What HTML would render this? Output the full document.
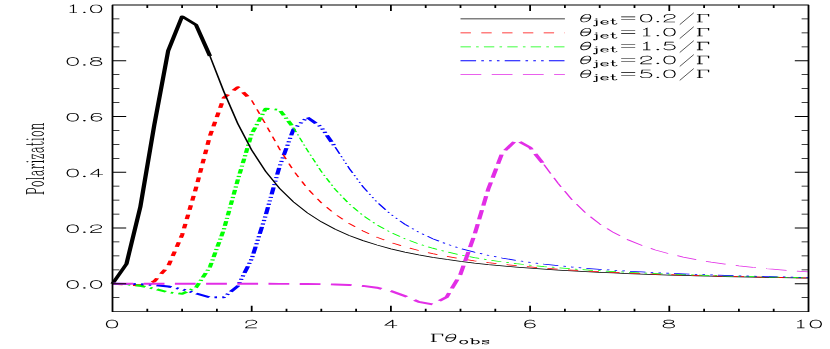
<!DOCTYPE html>
<html><head><meta charset="utf-8"><title>Polarization</title>
<style>html,body{margin:0;padding:0;background:#fff;font-family:"Liberation Sans",sans-serif}svg{display:block}</style></head><body>
<svg width="830" height="349" viewBox="0 0 830 349">
<rect width="830" height="349" fill="#fff"/>
<defs>
<path id="g0" d="M9,-21.8 5.5,-20.7 5.2,-20.3 3.3,-17.6 3.1,-16.8 2.2,-12.2 2.2,-12.1 2.2,-12 2.2,-9 2.2,-8.9 2.2,-8.8 3.2,-3.8 3.3,-3.4 5.2,-0.7 5.8,-0.2 8.6,0.8 11,0.8 14.5,-0.3 14.8,-0.7 16.7,-3.4 16.9,-4.2 17.8,-8.8 17.8,-8.9 17.8,-9 17.8,-12 17.8,-12.1 17.8,-12.2 16.8,-17.2 16.7,-17.6 14.8,-20.3 14.2,-20.8 11.4,-21.8ZM9,-20.2 11,-20.2 13.5,-19.2 15.2,-16.6 16.2,-12.1 16.2,-8.9 15.2,-4.4 13.4,-1.7 11,-0.8 9,-0.8 6.5,-1.8 4.8,-4.4 3.8,-8.9 3.8,-12.1 4.8,-16.6 6.6,-19.3Z"/>
<path id="g1" d="M13,-21.8 12.5,-21.7 12.2,-21.3 2.6,-7.9 2.2,-7 2.3,-6.5 3,-6.2 12.1,-6.2 12.2,-6.1 12.2,0 12.3,0.5 13,0.8 13.5,0.7 13.8,0 13.8,-6.1 13.9,-6.2 18,-6.2 18.5,-6.3 18.8,-7 18.7,-7.5 18,-7.8 13.9,-7.8 13.8,-7.9 13.8,-21 13.7,-21.5ZM12.1,-18.2 12.2,-18.2 12.2,-7.9 12.1,-7.8 4.8,-7.8 4.7,-7.9Z"/>
<path id="g2" d="M4.7,-21.8 4.3,-21.5 4.1,-20.6 3.2,-12.3 3.3,-11.5 3.7,-11.2 4,-11.2 4.3,-11.2 5.5,-12.3 8,-13.2 11,-13.2 13.5,-12.3 15.3,-10.5 16.2,-8 16.2,-6 15.3,-3.5 13.5,-1.7 11,-0.8 8,-0.8 5.5,-1.7 4.6,-2.6 3.7,-4.5 3.3,-4.8 3,-4.8 2.5,-4.7 2.2,-4.3 2.2,-4 2.2,-3.7 3.3,-1.5 4.5,-0.3 7.6,0.8 11,0.8 14.5,-0.3 16.7,-2.5 17.8,-5.6 17.8,-8 16.7,-11.5 14.5,-13.7 11.4,-14.8 8,-14.8 5.2,-13.9 5.1,-14 5.1,-14.6 5.7,-19.8 5.8,-20.2 15,-20.2 15.7,-20.5 15.8,-21 15.8,-21.3 15.5,-21.7 15,-21.8 5,-21.8Z"/>
<path id="g3" d="M12,-21.8 9.6,-21.8 6.8,-20.8 6.2,-20.3 4.3,-17.6 4.2,-17.2 3.2,-12.2 3.2,-12.1 3.2,-12 3.2,-7 3.2,-6.9 3.2,-6.8 4.3,-2.5 6.5,-0.3 10,0.8 11.4,0.8 14.5,-0.3 16.7,-2.5 17.8,-6 17.8,-7.4 16.7,-10.5 14.5,-12.7 11.4,-13.8 10,-13.8 6.5,-12.7 4.9,-11.1 4.8,-11.2 4.8,-12.1 5.8,-16.6 7.6,-19.3 10,-20.2 12,-20.2 14.4,-19.3 15.5,-17.3 16,-17.2 16.7,-17.5 16.8,-18 16.8,-18.3 15.5,-20.7ZM10,-12.2 11,-12.2 13.5,-11.3 15.3,-9.5 16.2,-7 16.2,-6 15.3,-3.5 13.5,-1.7 11,-0.8 10,-0.8 7.5,-1.7 5.8,-3.4 4.8,-6.9 5.7,-9.5 7.5,-11.3Z"/>
<path id="g4" d="M8,-21.8 4.5,-20.7 3.2,-18.3 3.2,-16 4.3,-13.5 6.8,-12.2 5.5,-11.7 3.3,-9.5 2.2,-7 2.2,-4 3.3,-1.5 4.5,-0.3 8,0.8 12,0.8 15.5,-0.3 16.7,-1.5 17.8,-3.7 17.8,-7 16.7,-9.5 14.5,-11.7 13.2,-12.2 15.7,-13.5 16.8,-15.7 16.8,-18 15.7,-20.5 15.2,-20.8 12,-21.8ZM4.6,-8.4 6.5,-10.3 9.9,-11.4 10.8,-11.2 13.5,-10.3 15.4,-8.4 16.2,-6.9 16.2,-4.1 15.4,-2.6 14.5,-1.7 12,-0.8 8,-0.8 5.5,-1.7 4.6,-2.6 3.8,-4.1 3.8,-6.9ZM4.8,-17.9 5.6,-19.3 8,-20.2 12,-20.2 14.5,-19.2 15.2,-17.9 15.2,-16.1 14.5,-14.8 14.2,-14.5 12.8,-13.8 9.9,-13.1 7.2,-13.8 5.8,-14.5 5.5,-14.8 4.8,-16.1Z"/>
<path id="g5" d="M5,-2.8 4.5,-2.7 3.3,-1.5 3.2,-1 3.3,-0.5 4.5,0.7 5,0.8 5.5,0.7 6.7,-0.5 6.8,-1 6.7,-1.5 5.5,-2.7Z"/>
<path id="g6" d="M2,-21.6 1.8,-21.5 1.4,-21 1.8,-20.5 2,-20.4 4.3,-20.4 4.4,-20.3 4.4,-0.7 4.3,-0.6 2,-0.6 1.8,-0.5 1.4,0 1.5,0.2 2,0.6 9,0.6 9.2,0.5 9.6,0 9.2,-0.5 9,-0.6 6.7,-0.6 6.6,-0.7 6.6,-9.3 6.7,-9.4 14,-9.4 14.1,-9.5 14.2,-9.4 17.2,-10.4 18.4,-11.6 19.5,-13.7 19.6,-14 19.5,-17.3 18.4,-19.4 17.4,-20.4 14.2,-21.6 14.1,-21.5 14,-21.6ZM6.6,-20.3 6.7,-20.4 13.9,-20.4 15.6,-19.6 16.6,-18.6 17.4,-16.9 17.4,-14.1 16.6,-12.4 15.6,-11.4 13.9,-10.6 6.7,-10.6 6.6,-10.7Z"/>
<path id="g7" d="M8.8,-14.6 5.8,-13.6 3.6,-11.4 2.4,-8.2 2.5,-8.1 2.4,-8 2.4,-6 2.5,-5.9 2.4,-5.8 3.4,-2.8 5.6,-0.6 8.8,0.6 8.9,0.5 9,0.6 11,0.6 11.1,0.5 11.2,0.6 14.2,-0.4 16.4,-2.6 17.6,-5.8 17.5,-5.9 17.6,-6 17.6,-8 17.5,-8.1 17.6,-8.2 16.6,-11.2 14.4,-13.4 11.2,-14.6 11.1,-14.5 11,-14.6 9,-14.6 8.9,-14.5ZM9.1,-13.4 10.9,-13.4 12.6,-12.6 14.5,-10.7 15.4,-8 15.4,-6 14.5,-3.3 12.6,-1.4 10.9,-0.6 9.1,-0.6 7.4,-1.4 5.5,-3.3 4.6,-6 4.6,-8 5.5,-10.7 7.4,-12.6Z"/>
<path id="g8" d="M2,-21.6 1.8,-21.5 1.4,-21 1.8,-20.5 2,-20.4 4.3,-20.4 4.4,-20.3 4.4,-0.7 4.3,-0.6 2,-0.6 1.8,-0.5 1.4,0 1.5,0.2 2,0.6 9,0.6 9.2,0.5 9.6,0 9.2,-0.5 9,-0.6 6.7,-0.6 6.6,-0.7 6.6,-21 6.5,-21.2 6,-21.6Z"/>
<path id="g9" d="M3.6,-12.4 3.4,-12 3.4,-11 3.5,-10.8 4,-10.4 5.2,-10.5 5.6,-11 5.6,-12 5.3,-12.5 7.1,-13.4 10.9,-13.4 12.6,-12.6 13.4,-11.8 13.4,-10.2 12.7,-9.5 6.8,-8.6 3.8,-7.6 3.4,-7.2 2.4,-5 2.4,-3 3.4,-0.8 3.8,-0.4 6.8,0.6 6.9,0.5 7,0.6 10,0.6 12.4,-0.6 13.8,-2 14.4,-0.8 14.8,-0.4 16.7,0.5 18,0.6 18.5,0.2 18.6,0 18.2,-0.5 17.2,-0.6 16.4,-1.4 15.6,-3.1 15.6,-10 14.6,-12.2 13.4,-13.4 11,-14.6 7,-14.6 4.8,-13.6ZM13.4,-8.5 13.4,-3.2 11.6,-1.4 9.9,-0.6 7.1,-0.6 5.6,-1.3 5.3,-1.6 4.6,-3.1 4.6,-4.9 5.3,-6.4 5.6,-6.7 7.3,-7.5 12.8,-8.3 13.3,-8.6Z"/>
<path id="g10" d="M1.8,-14.5 1.4,-14 1.8,-13.5 2,-13.4 4.3,-13.4 4.4,-13.3 4.4,-0.7 4.3,-0.6 2,-0.6 1.5,-0.2 1.4,0 1.5,0.2 2,0.6 9,0.6 9.2,0.5 9.6,0 9.2,-0.5 9,-0.6 6.7,-0.6 6.6,-0.7 6.6,-8 7.4,-10.5 9.4,-12.6 11.1,-13.4 13.4,-13.4 13.5,-13.3 12.6,-12.4 12.4,-12 12.6,-11.6 13.6,-10.6 14,-10.4 14.2,-10.5 15.5,-11.8 15.6,-12 15.5,-13.2 14.4,-14.4 14,-14.6 11,-14.6 8.6,-13.4 6.7,-11.5 6.6,-11.6 6.6,-14 6.2,-14.5 6,-14.6 2,-14.6ZM14.3,-12.5 14.4,-12.2 14,-11.8 13.8,-12.0Z"/>
<path id="g11" d="M1.8,-14.5 1.4,-14 1.8,-13.5 2,-13.4 4.3,-13.4 4.4,-13.3 4.4,-0.7 4.3,-0.6 2,-0.6 1.5,-0.2 1.4,0 1.5,0.2 2,0.6 9,0.6 9.2,0.5 9.6,0 9.2,-0.5 9,-0.6 6.7,-0.6 6.6,-0.7 6.6,-14 6.5,-14.2 6,-14.6 2,-14.6ZM5,-21.6 4.6,-21.4 3.6,-20.4 3.4,-20 3.6,-19.6 4.6,-18.6 5,-18.4 5.4,-18.6 6.4,-19.6 6.6,-20 6.4,-20.4 5.4,-21.4ZM4.8,-20 5,-20.2 5.2,-20 5,-19.8Z"/>
<path id="g12" d="M2.8,-14.5 2.4,-14 2.4,-10 2.5,-9.8 3,-9.4 3.2,-9.5 3.6,-9.8 4.5,-13.4 12.7,-13.4 12.8,-13.3 2.5,-0.3 2.4,0 2.5,0.2 3,0.6 15,0.6 15.2,0.5 15.6,0 15.6,-4 15.5,-4.2 15,-4.6 14.8,-4.5 14.4,-4.2 13.5,-0.6 5.3,-0.6 5.2,-0.7 15.5,-13.7 15.6,-14 15.5,-14.2 15,-14.6 3,-14.6Z"/>
<path id="g13" d="M5,-21.6 4.8,-21.5 4.4,-21 4.4,-14.7 4.3,-14.6 2,-14.6 1.8,-14.5 1.4,-14 1.5,-13.8 2,-13.4 4.3,-13.4 4.4,-13.3 4.4,-4 4.5,-3.9 4.4,-3.8 5.4,-0.8 5.8,-0.4 7.7,0.5 10,0.6 12.2,-0.4 12.6,-0.8 13.6,-3 13.2,-3.5 13,-3.6 12.8,-3.5 12.4,-3.2 11.7,-1.6 11.4,-1.3 9.9,-0.6 8.2,-0.6 7.4,-1.5 6.6,-4 6.6,-13.3 6.7,-13.4 10,-13.4 10.2,-13.5 10.6,-14 10.5,-14.2 10,-14.6 6.7,-14.6 6.6,-14.7 6.6,-21 6.2,-21.5 6,-21.6 5.5,-21.2Z"/>
<path id="g14" d="M1.5,-14.2 1.4,-14 1.5,-13.8 2,-13.4 4.3,-13.4 4.4,-13.3 4.4,-0.7 4.3,-0.6 2,-0.6 1.8,-0.5 1.4,0 1.8,0.5 2,0.6 9,0.6 9.5,0.2 9.6,0 9.5,-0.2 9,-0.6 6.7,-0.6 6.6,-0.7 6.6,-10.8 8.3,-12.5 11,-13.4 12.9,-13.4 14.4,-12.7 14.7,-12.4 15.4,-10.9 15.4,-0.7 15.3,-0.6 13,-0.6 12.5,-0.2 12.4,0 12.5,0.2 13,0.6 20,0.6 20.5,0.2 20.6,0 20.5,-0.2 20,-0.6 17.7,-0.6 17.6,-0.7 17.6,-11 16.6,-13.2 16.2,-13.6 13.2,-14.6 13.1,-14.5 13,-14.6 11,-14.6 10.9,-14.5 10.8,-14.6 7.8,-13.6 6.7,-12.5 6.6,-12.6 6.6,-14 6.2,-14.5 6,-14.6 2,-14.6Z"/>
<path id="g15" d="M7,-14.9 3,-14.9 2.5,-14.8 2.2,-14.5 2.1,-14 2.2,-13.5 2.7,-13.2 5,-13.1 5.1,-13 5.1,3.8 4.3,5.3 3.6,6.1 3.3,6 3.8,5.3 3.9,5 3.7,4.3 2.7,3.3 2,3.1 1.3,3.3 0.3,4.3 0.1,5 0.2,6.3 0.3,6.7 1.3,7.7 2,7.9 4.4,7.8 6.4,6.8 6.8,6.4 7.8,4.4 7.9,4 7.9,-14 7.8,-14.5 7.5,-14.8ZM6,-21.9 5.3,-21.7 4.3,-20.7 4.1,-20 4.3,-19.3 5.3,-18.3 6,-18.1 6.7,-18.3 7.7,-19.3 7.9,-20 7.7,-20.7 6.7,-21.7Z"/>
<path id="g16" d="M9,-14.9 5.8,-13.9 5.3,-13.7 3.3,-11.7 2.2,-8.4 2.1,-6 3.1,-2.8 3.3,-2.3 5.3,-0.3 8.6,0.8 11,0.9 14.2,-0.1 14.7,-0.3 16.7,-2.3 16.9,-3 16.8,-3.5 16.3,-3.8 16,-3.9 15.3,-3.7 13.2,-1.7 11,-0.9 9.2,-0.9 7.7,-1.7 5.8,-3.6 4.9,-6 4.9,-7 5,-7.1 16,-7.1 16.5,-7.2 16.8,-7.7 16.9,-10 16.8,-10.4 15.8,-12.4 14.4,-13.8 12.4,-14.8ZM5.2,-9 5.8,-10.4 7.7,-12.3 9.2,-13.1 11.8,-13.1 13.2,-12.4 13.4,-12.2 14.1,-10.8 14.1,-9 14,-8.9 5.3,-8.9Z"/>
<path id="g17" d="M5,-21.9 4.5,-21.8 4.2,-21.5 4.1,-21 4.1,-15 4,-14.9 1.7,-14.8 1.2,-14.5 1.1,-14 1.2,-13.5 1.7,-13.2 4,-13.1 4.1,-13 4.1,-4 5.2,-0.5 5.6,-0.2 7.6,0.8 8,0.9 10.4,0.8 12.4,-0.2 12.8,-0.6 13.8,-2.6 13.9,-3 13.8,-3.5 13.5,-3.8 13,-3.9 12.5,-3.8 12.2,-3.4 11.4,-1.8 11.2,-1.6 9.8,-0.9 8.4,-0.9 7.7,-1.8 6.9,-4 6.9,-13 7,-13.1 10,-13.1 10.5,-13.2 10.8,-13.5 10.9,-14 10.8,-14.5 10.3,-14.8 7,-14.9 6.9,-15 6.9,-21 6.8,-21.3 6.3,-21.8 6,-21.9 5.4,-21.8Z"/>
<path id="g18" d="M9,-14.9 5.8,-13.9 5.3,-13.7 3.3,-11.7 2.2,-8.4 2.1,-6 3.1,-2.8 3.3,-2.3 5.3,-0.3 8.6,0.8 11,0.9 14.2,-0.1 14.7,-0.3 16.7,-2.3 17.8,-5.6 17.9,-8 16.9,-11.2 16.7,-11.7 14.7,-13.7 11.4,-14.8ZM9.2,-13.1 10.8,-13.1 12.3,-12.3 14.2,-10.4 15.1,-8 15.1,-6 14.2,-3.6 12.3,-1.7 10.8,-0.9 9.2,-0.9 7.7,-1.7 5.8,-3.6 4.9,-6 4.9,-8 5.8,-10.4 7.7,-12.3Z"/>
<path id="g19" d="M1.5,-21.8 1.2,-21.5 1.1,-21 1.2,-20.5 1.5,-20.2 2,-20.1 4,-20.1 4.1,-20 4.1,0 4.2,0.5 4.5,0.8 5,0.9 5.4,0.8 6,0.9 6.3,0.8 6.8,0.3 7,-0.7 7.6,-0.2 9.6,0.8 12,0.9 15.2,-0.1 15.7,-0.3 17.7,-2.3 17.9,-2.8 18.9,-6 18.8,-8.4 17.7,-11.7 15.7,-13.7 15.2,-13.9 12,-14.9 9.6,-14.8 7.6,-13.8 7,-13.3 6.9,-13.4 6.9,-21 6.8,-21.5 6.5,-21.8 6,-21.9 2,-21.9ZM10.2,-13.1 11.8,-13.1 13.3,-12.3 15.2,-10.4 16.1,-8 16.1,-6 15.2,-3.6 13.3,-1.7 11.8,-0.9 10.2,-0.9 8.7,-1.7 6.9,-3.4 6.9,-10.6 8.7,-12.3Z"/>
<path id="g20" d="M5.6,-14.8 3.6,-13.8 2.3,-12.7 2.1,-12 2.1,-10 2.3,-9.3 3.6,-8.2 5.8,-7.1 10.5,-5.2 12.3,-4.3 13.1,-3.6 13.1,-2.4 12.3,-1.7 10.8,-0.9 7.2,-0.9 5.7,-1.7 4.7,-2.7 3.8,-4.4 3.5,-4.8 3,-4.9 2.7,-4.8 2.2,-4.5 2.1,-4 2.1,0 2.2,0.3 2.7,0.8 3,0.9 3.3,0.8 3.8,0.4 4.2,-0.4 6.6,0.8 7,0.9 11,0.9 11.4,0.8 13.4,-0.2 14.7,-1.3 14.9,-2 14.9,-5 14.7,-5.7 13.4,-6.8 11.2,-7.9 6.5,-9.8 4.7,-10.7 3.9,-11.4 3.9,-11.6 4.7,-12.3 6.2,-13.1 9.8,-13.1 11.3,-12.3 12.3,-11.3 13.2,-9.6 13.5,-9.2 14,-9.1 14.3,-9.2 14.8,-9.5 14.9,-10 14.9,-14 14.8,-14.3 14.3,-14.8 14,-14.9 13.7,-14.8 13.2,-14.4 12.8,-13.6 10.4,-14.8 10,-14.9 6,-14.9Z"/>
<path id="one" fill="none" stroke="#000" stroke-width="1.55" d="M6.5,-17.5 L9,-18.8 L11,-21 L11,0 M6,0 L15.5,0"/>
<path id="gam" fill="none" stroke="#000" stroke-width="1.55" d="M5,-21 L5,0 M5.7,-21 L5.7,0 M2,-21 L17,-21 L17,-15 M16.5,-21 L17,-17 M2,0 L9.5,0"/>
<g id="tht" fill="none" stroke="#000"><path stroke-width="1.55" d="M12,-21 C8,-21 4.5,-16 3.5,-10 C2.5,-4 4,0 7,0 C11,0 14.5,-5 15.5,-11 C16.5,-17 15,-21 12,-21 Z"/><path stroke-width="2.4" d="M3.6,-10.5 L15.4,-10.5"/></g>
<path id="eq" fill="none" stroke="#000" stroke-width="1.55" d="M4,-14 H22 M4,-7 H22"/>
<path id="two" fill="none" stroke="#000" stroke-width="1.55" stroke-linejoin="round" d="M3.5,-12.5 L3.5,-16.5 L5,-19 L8,-20.6 L12,-21 L15,-19.6 L16.8,-16.8 L16.8,-14 L15,-10.8 L8,-6.8 L4.3,-3.5 L3,0 L17,0"/>
<path id="sl" fill="none" stroke="#000" stroke-width="1.15" d="M21.1,-25 L3.1,7"/>
</defs>
<g transform="scale(1,0.45)" fill="none" stroke-linecap="butt" stroke-linejoin="round">
<polyline points="112.5,630.56 126.42,586.8 140.34,459.71 154.26,277.92 168.18,112.77 182.1,36.54 196.02,55.38 209.94,124.37" stroke="#000000" stroke-width="4.3"/>
<polyline points="112.5,630.56 126.42,632.33 140.34,634.05 154.26,625.24 168.18,591.66 182.1,522.08 196.02,417.68 209.94,302.02 223.86,217.36 237.78,193.79 251.7,223.09" stroke="#ff0000" stroke-width="4.3" stroke-dasharray="10.4 10.4"/>
<polyline points="112.5,630.56 126.42,631.62 140.34,635.13 154.26,641.58 168.18,649.67 182.1,652.92 196.02,638.71 209.94,593.22 223.86,509.94 237.78,399.96 251.7,297.26 265.62,241.51 279.54,244.08 293.46,283.51" stroke="#00ff00" stroke-width="4.3" stroke-dasharray="10.4 5.2 2.6 5.2"/>
<polyline points="112.5,630.56 126.42,630.79 140.34,631.58 154.26,633.31 168.18,636.69 182.1,642.75 196.02,651.9 209.94,661.04 223.86,660.47 237.78,635.8 251.7,575.17 265.62,479.1 279.54,369.86 293.46,287.5 307.38,260.74 321.3,282.68 335.22,327.01" stroke="#0000ff" stroke-width="4.3" stroke-dasharray="15.6 5.2 2.6 5.2 2.6 5.2 2.6 5.2"/>
<polyline points="209.94,124.37 223.86,203.5 237.78,274.7 251.7,333.52 265.62,380.74 279.54,418.42 293.46,448.63 307.38,473.06 321.3,493.01 335.22,509.47 349.14,523.19 363.06,534.72 376.98,544.51 390.9,552.89 404.82,560.1 418.74,566.36 432.66,571.82 446.58,576.62 460.5,580.85 474.42,584.61 488.34,587.95 502.26,590.94 516.18,593.63 530.1,596.06 544.02,598.25 557.94,600.24 571.86,602.05 585.78,603.71 599.7,605.22 613.62,606.61 627.54,607.89 641.46,609.07 655.38,610.16 669.3,611.17 683.22,612.1 697.14,612.97 711.06,613.78 724.98,614.54 738.9,615.24 752.82,615.9 766.74,616.52 780.66,617.1 794.58,617.64 808.5,618.15" stroke="#000000" stroke-width="1.7"/>
<polyline points="251.7,223.09 265.62,276.15 279.54,331.17 293.46,379.27 307.38,418.75 321.3,450.51 335.22,476.02 349.14,496.63 363.06,513.44 376.98,527.29 390.9,538.82 404.82,548.51 418.74,556.72 432.66,563.75 446.58,569.81 460.5,575.07 474.42,579.66 488.34,583.7 502.26,587.27 516.18,590.44 530.1,593.27 544.02,595.81 557.94,598.09 571.86,600.15 585.78,602.02 599.7,603.72 613.62,605.27 627.54,606.69 641.46,607.99 655.38,609.19 669.3,610.29 683.22,611.31 697.14,612.25 711.06,613.12 724.98,613.94 738.9,614.69 752.82,615.4 766.74,616.06 780.66,616.67 794.58,617.25 808.5,617.79" stroke="#ff0000" stroke-width="1.7" stroke-dasharray="10.4 10.4"/>
<polyline points="293.46,283.51 307.38,333.86 321.3,381.09 335.22,420.86 349.14,453.1 363.06,478.98 376.98,499.8 390.9,516.69 404.82,530.53 418.74,541.98 432.66,551.55 446.58,559.63 460.5,566.51 474.42,572.41 488.34,577.52 502.26,581.97 516.18,585.87 530.1,589.3 544.02,592.35 557.94,595.06 571.86,597.49 585.78,599.67 599.7,601.63 613.62,603.41 627.54,605.03 641.46,606.5 655.38,607.85 669.3,609.09 683.22,610.22 697.14,611.27 711.06,612.23 724.98,613.12 738.9,613.95 752.82,614.72 766.74,615.44 780.66,616.1 794.58,616.73 808.5,617.31" stroke="#00ff00" stroke-width="1.7" stroke-dasharray="10.4 5.2 2.6 5.2"/>
<polyline points="335.22,327.01 349.14,373.91 363.06,415.17 376.98,449.11 390.9,476.42 404.82,498.33 418.74,516.02 432.66,530.43 446.58,542.28 460.5,552.13 474.42,560.39 488.34,567.39 502.26,573.37 516.18,578.52 530.1,582.99 544.02,586.89 557.94,590.31 571.86,593.34 585.78,596.03 599.7,598.42 613.62,600.57 627.54,602.51 641.46,604.25 655.38,605.84 669.3,607.28 683.22,608.59 697.14,609.79 711.06,610.9 724.98,611.92 738.9,612.85 752.82,613.72 766.74,614.52 780.66,615.27 794.58,615.96 808.5,616.6" stroke="#0000ff" stroke-width="1.7" stroke-dasharray="15.6 5.2 2.6 5.2 2.6 5.2 2.6 5.2"/>
<polyline points="112.5,630.56 126.42,630.56 140.34,630.55 154.26,630.56 168.18,630.56 182.1,630.56 196.02,630.57 209.94,630.58 223.86,630.6 237.78,630.62 251.7,630.65 265.62,630.7 279.54,630.77 293.46,630.9 307.38,631.11 321.3,631.46 335.22,632.09 349.14,633.25 363.06,635.39 376.98,639.38 390.9,646.53 404.82,657.77 418.74,670.82 432.66,676.6 446.58,660.4 460.5,609.3 474.42,522.32 488.34,419.83 502.26,340.02 516.18,311.12 530.1,327.78 544.02,365.92" stroke="#e22ee6" stroke-width="4.3" stroke-dasharray="20.8 10.4"/>
<polyline points="544.02,365.92 557.94,407.06 571.86,443.46 585.78,473.45 599.7,497.57 613.62,516.89 627.54,532.46 641.46,545.1 655.38,555.47 669.3,564.06 683.22,571.25 697.14,577.33 711.06,582.5 724.98,586.94 738.9,590.77 752.82,594.11 766.74,597.04 780.66,599.62 794.58,601.9 808.5,603.93" stroke="#e22ee6" stroke-width="1.7" stroke-dasharray="20.8 10.4"/>
<line x1="460.5" y1="42.08" x2="564.9" y2="42.08" stroke="#000000" stroke-width="1.7"/>
<line x1="460.5" y1="73.06" x2="564.9" y2="73.06" stroke="#ff0000" stroke-width="1.7" stroke-dasharray="10.4 10.4"/>
<line x1="460.5" y1="104.03" x2="564.9" y2="104.03" stroke="#00ff00" stroke-width="1.7" stroke-dasharray="10.4 5.2 2.6 5.2"/>
<line x1="460.5" y1="135" x2="564.9" y2="135" stroke="#0000ff" stroke-width="1.7" stroke-dasharray="15.6 5.2 2.6 5.2 2.6 5.2 2.6 5.2"/>
<line x1="460.5" y1="165.97" x2="564.9" y2="165.97" stroke="#e22ee6" stroke-width="1.7" stroke-dasharray="20.8 10.4"/>
<rect x="112.5" y="11.11" width="696" height="681.44" stroke="#000" stroke-width="1.8"/>
<path d="M147.3,692.56v-6.67 M147.3,11.11v6.67 M182.1,692.56v-6.67 M182.1,11.11v6.67 M216.9,692.56v-6.67 M216.9,11.11v6.67 M251.7,692.56v-13.33 M251.7,11.11v13.33 M286.5,692.56v-6.67 M286.5,11.11v6.67 M321.3,692.56v-6.67 M321.3,11.11v6.67 M356.1,692.56v-6.67 M356.1,11.11v6.67 M390.9,692.56v-13.33 M390.9,11.11v13.33 M425.7,692.56v-6.67 M425.7,11.11v6.67 M460.5,692.56v-6.67 M460.5,11.11v6.67 M495.3,692.56v-6.67 M495.3,11.11v6.67 M530.1,692.56v-13.33 M530.1,11.11v13.33 M564.9,692.56v-6.67 M564.9,11.11v6.67 M599.7,692.56v-6.67 M599.7,11.11v6.67 M634.5,692.56v-6.67 M634.5,11.11v6.67 M669.3,692.56v-13.33 M669.3,11.11v13.33 M704.1,692.56v-6.67 M704.1,11.11v6.67 M738.9,692.56v-6.67 M738.9,11.11v6.67 M773.7,692.56v-6.67 M773.7,11.11v6.67 M112.5,661.53h6.9 M808.5,661.53h-6.9 M112.5,630.56h13.7 M808.5,630.56h-13.7 M112.5,599.58h6.9 M808.5,599.58h-6.9 M112.5,568.61h6.9 M808.5,568.61h-6.9 M112.5,537.64h6.9 M808.5,537.64h-6.9 M112.5,506.67h13.7 M808.5,506.67h-13.7 M112.5,475.69h6.9 M808.5,475.69h-6.9 M112.5,444.72h6.9 M808.5,444.72h-6.9 M112.5,413.75h6.9 M808.5,413.75h-6.9 M112.5,382.78h13.7 M808.5,382.78h-13.7 M112.5,351.81h6.9 M808.5,351.81h-6.9 M112.5,320.83h6.9 M808.5,320.83h-6.9 M112.5,289.86h6.9 M808.5,289.86h-6.9 M112.5,258.89h13.7 M808.5,258.89h-13.7 M112.5,227.92h6.9 M808.5,227.92h-6.9 M112.5,196.94h6.9 M808.5,196.94h-6.9 M112.5,165.97h6.9 M808.5,165.97h-6.9 M112.5,135h13.7 M808.5,135h-13.7 M112.5,104.03h6.9 M808.5,104.03h-6.9 M112.5,73.06h6.9 M808.5,73.06h-6.9 M112.5,42.08h6.9 M808.5,42.08h-6.9" stroke="#000" stroke-width="1.8"/>
</g>
<g fill="#000" stroke="none">
<g transform="translate(103.9,288.35) scale(0.78,0.37)"><use href="#g0" x="-50"/><use href="#g5" x="-30"/><use href="#g0" x="-20"/></g>
<g transform="translate(103.9,232.6) scale(0.78,0.37)"><use href="#g0" x="-50"/><use href="#g5" x="-30"/><use href="#two" x="-20"/></g>
<g transform="translate(103.9,176.85) scale(0.78,0.37)"><use href="#g0" x="-50"/><use href="#g5" x="-30"/><use href="#g1" x="-20"/></g>
<g transform="translate(103.9,121.1) scale(0.78,0.37)"><use href="#g0" x="-50"/><use href="#g5" x="-30"/><use href="#g3" x="-20"/></g>
<g transform="translate(103.9,65.35) scale(0.78,0.37)"><use href="#g0" x="-50"/><use href="#g5" x="-30"/><use href="#g4" x="-20"/></g>
<g transform="translate(103.9,12.75) scale(0.78,0.37)"><use href="#one" x="-50"/><use href="#g5" x="-30"/><use href="#g0" x="-20"/></g>
<g transform="translate(112,327.9) scale(0.78,0.37)"><use href="#g0" x="-10"/></g>
<g transform="translate(251.2,327.9) scale(0.78,0.37)"><use href="#two" x="-10"/></g>
<g transform="translate(390.4,327.9) scale(0.78,0.37)"><use href="#g1" x="-10"/></g>
<g transform="translate(529.6,327.9) scale(0.78,0.37)"><use href="#g3" x="-10"/></g>
<g transform="translate(668.8,327.9) scale(0.78,0.37)"><use href="#g4" x="-10"/></g>
<g transform="translate(808,327.9) scale(0.78,0.37)"><use href="#one" x="-20"/><use href="#g0" x="0"/></g>
<g transform="translate(578.3,22.04) scale(0.78,0.37)"><use href="#tht" x="0"/><use href="#g15" transform="translate(19,6) scale(0.71)"/><use href="#g16" transform="translate(26.81,6) scale(0.71)"/><use href="#g17" transform="translate(40.3,6) scale(0.71)"/><use href="#eq" x="50.95"/><use href="#g0" x="76.95"/><use href="#g5" x="96.95"/><use href="#two" x="106.95"/><use href="#sl" x="126.95"/><use href="#gam" x="150.05"/></g>
<g transform="translate(578.3,35.98) scale(0.78,0.37)"><use href="#tht" x="0"/><use href="#g15" transform="translate(19,6) scale(0.71)"/><use href="#g16" transform="translate(26.81,6) scale(0.71)"/><use href="#g17" transform="translate(40.3,6) scale(0.71)"/><use href="#eq" x="50.95"/><use href="#one" x="76.95"/><use href="#g5" x="96.95"/><use href="#g0" x="106.95"/><use href="#sl" x="126.95"/><use href="#gam" x="150.05"/></g>
<g transform="translate(578.3,49.91) scale(0.78,0.37)"><use href="#tht" x="0"/><use href="#g15" transform="translate(19,6) scale(0.71)"/><use href="#g16" transform="translate(26.81,6) scale(0.71)"/><use href="#g17" transform="translate(40.3,6) scale(0.71)"/><use href="#eq" x="50.95"/><use href="#one" x="76.95"/><use href="#g5" x="96.95"/><use href="#g2" x="106.95"/><use href="#sl" x="126.95"/><use href="#gam" x="150.05"/></g>
<g transform="translate(578.3,63.85) scale(0.78,0.37)"><use href="#tht" x="0"/><use href="#g15" transform="translate(19,6) scale(0.71)"/><use href="#g16" transform="translate(26.81,6) scale(0.71)"/><use href="#g17" transform="translate(40.3,6) scale(0.71)"/><use href="#eq" x="50.95"/><use href="#two" x="76.95"/><use href="#g5" x="96.95"/><use href="#g0" x="106.95"/><use href="#sl" x="126.95"/><use href="#gam" x="150.05"/></g>
<g transform="translate(578.3,77.79) scale(0.78,0.37)"><use href="#tht" x="0"/><use href="#g15" transform="translate(19,6) scale(0.71)"/><use href="#g16" transform="translate(26.81,6) scale(0.71)"/><use href="#g17" transform="translate(40.3,6) scale(0.71)"/><use href="#eq" x="50.95"/><use href="#g2" x="76.95"/><use href="#g5" x="96.95"/><use href="#g0" x="106.95"/><use href="#sl" x="126.95"/><use href="#gam" x="150.05"/></g>
<g transform="translate(459.8,341.7) scale(0.78,0.37)"><use href="#gam" x="-39.09"/><use href="#tht" x="-21.09"/><use href="#g18" transform="translate(-2.09,6) scale(0.71)"/><use href="#g19" transform="translate(12.11,6) scale(0.71)"/><use href="#g20" transform="translate(27.02,6) scale(0.71)"/></g>
<g transform="translate(43.4,158.7) rotate(-90) scale(0.35,0.8)"><use href="#g6" x="-103.5"/><use href="#g7" x="-81.5"/><use href="#g8" x="-61.5"/><use href="#g9" x="-50.5"/><use href="#g10" x="-30.5"/><use href="#g11" x="-13.5"/><use href="#g12" x="-2.5"/><use href="#g9" x="15.5"/><use href="#g13" x="35.5"/><use href="#g11" x="50.5"/><use href="#g7" x="61.5"/><use href="#g14" x="81.5"/></g>
</g>
</svg></body></html>
